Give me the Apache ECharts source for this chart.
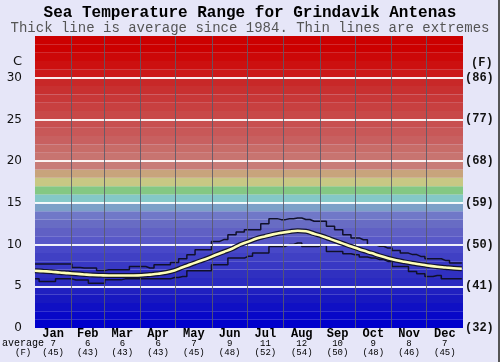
<!DOCTYPE html>
<html>
<head>
<meta charset="utf-8">
<script src="https://cdn.jsdelivr.net/npm/echarts@6/dist/echarts.min.js"></script>
<style>
html,body{margin:0;padding:0;background:#e6e6f8;}
#c{width:500px;height:362px;}
</style>
</head>
<body>
<div id="c"></div>
<script>
const months = ['Jan','Feb','Mar','Apr','May','Jun','Jul','Aug','Sep','Oct','Nov','Dec'];
const monthStartDays = [31,59,90,120,151,181,212,243,273,304,334];
const monthMidDays = [15.5,45,74.5,105,135.5,166,196.5,227.5,258,288.5,319,349.5];
const avgC = [7,6,6,6,7,9,11,12,10,9,8,7];
const avgF = [45,43,43,43,45,48,52,54,50,48,46,45];

const sampleDays = [0,7,14,21,28,35,42,49,56,63,70,77,84,91,98,105,112,119,126,133,140,147,154,161,168,175,182,189,196,203,210,217,224,231,238,245,252,259,266,273,280,287,294,301,308,315,322,329,336,343,350,357,364];
const avgTemp = [6.86,6.8,6.75,6.65,6.58,6.5,6.42,6.35,6.32,6.3,6.3,6.3,6.3,6.32,6.4,6.5,6.65,6.9,7.28,7.63,8.0,8.34,8.75,9.12,9.5,10.0,10.35,10.72,10.98,11.22,11.4,11.55,11.65,11.6,11.3,11.0,10.65,10.3,9.95,9.62,9.28,8.98,8.65,8.36,8.12,7.93,7.76,7.62,7.47,7.34,7.25,7.16,7.1];
const maxTemp = [7.66,7.66,7.66,7.66,7.66,7.25,7.2,7.2,6.9,6.97,6.97,6.97,7.37,7.37,7.2,7.58,7.58,7.85,8.3,8.78,9.38,9.38,10.38,10.6,11.19,11.5,11.79,11.79,12.5,13.11,12.99,13.1,13.19,13.0,12.79,12.79,12.19,11.79,11.19,10.8,10.58,9.98,9.8,9.58,9.3,8.98,8.8,8.58,8.3,8.3,8.1,7.78,7.78];
const minTemp = [5.89,5.57,5.57,5.89,5.89,5.75,5.75,5.37,5.37,5.77,5.77,5.89,5.89,5.89,5.89,5.89,5.89,6.05,6.17,6.86,6.86,6.86,7.58,7.58,8.38,8.38,8.6,8.98,8.98,9.78,9.78,10.0,10.18,9.78,9.78,9.9,9.18,9.18,8.9,8.78,8.5,8.38,8.2,7.98,7.37,7.37,6.77,6.5,6.17,6.3,5.89,5.89,5.89];

// one colour per 1°C band, from 0-1 upward to 34-35
const bandColors = ['#0000cc','#0808c8','#1010c4','#1818c0','#2020c0','#2a2ac0','#3030c0','#3838c4','#4040c4','#4848c8',
  '#5858c8','#6060c4','#686cc4','#7078c8','#7ca0c8','#84c8c8','#84c884','#c8c884','#c8a47c','#c87c78',
  '#c87470','#c86c68','#c86060','#c85858','#c85050','#c84848','#c84040','#c83838','#c83030','#c82828',
  '#cc1818','#cc1010','#cc0808','#cc0000','#cc0000'];

const zip = (a,b) => a.map((v,i)=>[v,b[i]]);
const mono = '"Liberation Mono","DejaVu Sans Mono",monospace';

const chart = echarts.init(document.getElementById('c'), null, {renderer:'canvas'});
chart.setOption({
  animation:false,
  backgroundColor:'#e6e6f8',
  title:[
    {left:'center', top:5, padding:0, text:'Sea Temperature Range for Grindavik Antenas',
     textStyle:{fontFamily:mono,fontSize:16,fontWeight:'bold',color:'#000'}},
    {left:'center', top:21, padding:0, text:'Thick line is average since 1984. Thin lines are extremes',
     textStyle:{fontFamily:mono,fontSize:14,fontWeight:'normal',color:'#555'}}
  ],
  grid:{left:35,right:37,top:36,bottom:34},
  xAxis:{
    type:'value',min:0,max:365,
    axisLine:{show:false},axisTick:{show:false},splitLine:{show:false},
    axisLabel:{
      customValues:monthMidDays, margin:1,
      formatter:(v)=>{const i=monthMidDays.indexOf(v); if(i<0) return ''; return '{m|'+months[i]+'}\n{v|'+avgC[i]+'}\n{f|('+avgF[i]+')}';},
      rich:{
        m:{fontFamily:mono,fontSize:12,fontWeight:'bold',color:'#000',lineHeight:9.5},
        v:{fontFamily:mono,fontSize:9,color:'#000',lineHeight:9.5},
        f:{fontFamily:mono,fontSize:9,color:'#000',lineHeight:9.5}
      }
    }
  },
  yAxis:[
    {type:'value',min:0,max:35,interval:5,
     axisLine:{show:false},axisTick:{show:false},splitLine:{show:false},
     axisLabel:{margin:13,fontFamily:'"DejaVu Sans",sans-serif',fontSize:12,color:'#111',
       formatter:(v)=> v===35?'':String(v)}},
    {type:'value',min:0,max:35,interval:5,position:'right',
     axisLine:{show:false},axisTick:{show:false},splitLine:{show:false},
     axisLabel:{margin:2,fontFamily:mono,fontSize:12,fontWeight:'bold',color:'#111',
       formatter:(v)=> v===35?'':'('+Math.round(v*9/5+32)+')'}}
  ],
  graphic:[
    {type:'text',left:13,top:55,style:{text:'C',font:'13px "DejaVu Sans",sans-serif',fill:'#111'}},
    {type:'text',left:471,top:57,style:{text:'(F)',font:'bold 12px '+mono,fill:'#111'}},
    {type:'text',left:2,top:338,style:{text:'average',font:'10px '+mono,fill:'#000'}},
    {type:'text',left:15,top:348,style:{text:'(F)',font:'9px '+mono,fill:'#000'}},
    {type:'rect',shape:{x:498,y:0,width:2,height:362},style:{fill:'#555'}}
  ],
  series:[
    {type:'line',name:'bands',data:[[0,0]],symbol:'none',lineStyle:{opacity:0},z:1,silent:true,
     markArea:{silent:true,data:bandColors.map((c,i)=>[{yAxis:i,itemStyle:{color:c}},{yAxis:i+1}])}},
    {type:'line',name:'grid',data:[[0,0]],symbol:'none',lineStyle:{opacity:0},z:2,silent:true,
     markLine:{silent:true,symbol:['none','none'],label:{show:false},
       data:[5,10,15,20,25,30].map(v=>({yAxis:v,lineStyle:{color:'#ffffff',width:2,type:'solid',opacity:0.9}}))
         .concat(monthStartDays.map(d=>({xAxis:d,lineStyle:{color:'#5a5a6a',width:1,type:'solid',opacity:0.85}})))}},
    {type:'line',name:'max',data:zip(sampleDays,maxTemp),step:'middle',symbol:'none',z:4,
     lineStyle:{color:'#10102a',width:1.5}},
    {type:'line',name:'min',data:zip(sampleDays,minTemp),step:'middle',symbol:'none',z:4,
     lineStyle:{color:'#10102a',width:1.5}},
    {type:'line',name:'avgOutline',data:zip(sampleDays,avgTemp),smooth:0.4,symbol:'none',z:5,
     lineStyle:{color:'#14142e',width:5}},
    {type:'line',name:'avg',data:zip(sampleDays,avgTemp),smooth:0.4,symbol:'none',z:6,
     lineStyle:{color:'#ffffb8',width:2.6}}
  ]
});
</script>
</body>
</html>
